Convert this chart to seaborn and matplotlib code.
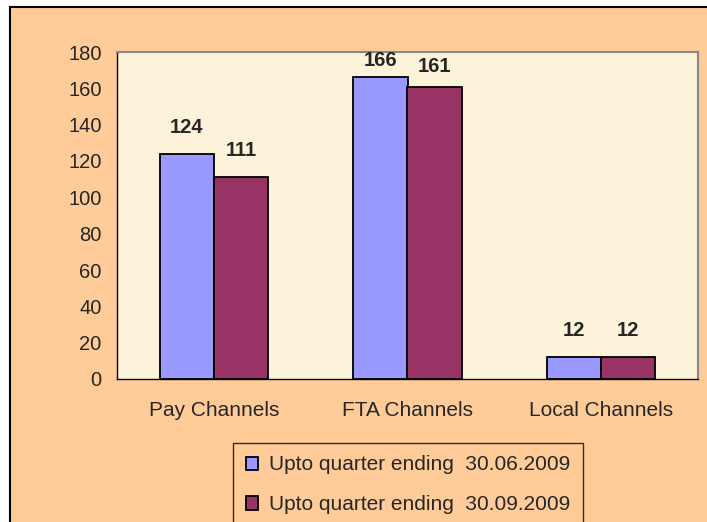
import matplotlib
matplotlib.use("Agg")
import matplotlib.pyplot as plt
from matplotlib.patches import Rectangle
import seaborn as sns
import pandas as pd

categories = ["Pay Channels", "FTA Channels", "Local Channels"]
series_names = ["Upto quarter ending  30.06.2009", "Upto quarter ending  30.09.2009"]
q2_values = [124, 166, 12]
q3_values = [111, 161, 12]
y_ticks = [0, 20, 40, 60, 80, 100, 120, 140, 160, 180]

df = pd.DataFrame({
    "category": categories * 2,
    "series": [series_names[0]] * 3 + [series_names[1]] * 3,
    "value": q2_values + q3_values,
})

sns.set_style("white")
plt.rcParams["font.family"] = ["Liberation Sans", "DejaVu Sans"]

fig = plt.figure(figsize=(7.07, 5.22), dpi=100, facecolor="white")
# outer chart frame
fig.patches.append(Rectangle((10 / 707, -0.05), 1.2, 1 - 7 / 522 + 0.05,
                             transform=fig.transFigure, facecolor="#FFCC99",
                             edgecolor="black", linewidth=1.5, zorder=-10))

ax = fig.add_axes([117 / 707, 1 - 379 / 522, (698 - 117) / 707, (379 - 52) / 522])
ax.set_facecolor("#FDF2DA")

palette = {series_names[0]: "#9999FF", series_names[1]: "#993366"}
sns.barplot(data=df, x="category", y="value", hue="series", order=categories,
            hue_order=series_names, palette=palette, width=0.56, saturation=1,
            edgecolor="black", linewidth=1.3, ax=ax, legend=True)

ax.set_xlim(-0.5, 2.5)
ax.set_ylim(0, 180)
ax.set_yticks(y_ticks)
ax.set_xlabel("")
ax.set_ylabel("")
ax.tick_params(axis="y", which="major", direction="out", length=5, width=1,
               color="black", labelsize=14.5, pad=6)
ax.set_xticks([0, 1, 2])
ax.set_xticks([-0.5, 0.5, 1.5, 2.5], minor=True)
ax.tick_params(axis="x", which="major", length=0, labelsize=15, pad=16)
ax.tick_params(axis="x", which="minor", direction="out", length=6, width=1, color="black")
for s in ["left", "bottom"]:
    ax.spines[s].set_color("black")
    ax.spines[s].set_linewidth(1)
for s in ["top", "right"]:
    ax.spines[s].set_color("#888888")
    ax.spines[s].set_linewidth(1.5)

# data labels
offsets_px = [17, 7, 17, 17, 11, 17]
patches = [p for c in ax.containers for p in c]
for p, off in zip(patches, offsets_px):
    h = p.get_height()
    ax.annotate(f"{int(round(h))}", (p.get_x() + p.get_width() / 2, h),
                xytext=(0, off * 0.72), textcoords="offset points",
                ha="center", va="bottom", fontsize=14.5, fontweight="bold")

handles, labels = ax.get_legend_handles_labels()
ax.get_legend().remove()
leg = fig.legend(handles, labels, loc="upper center",
                 bbox_to_anchor=(408 / 707, 1 - 443 / 522), frameon=True,
                 fontsize=15, handlelength=0.6, handleheight=0.6,
                 handletextpad=0.5, labelspacing=1.0, borderpad=0.6,
                 borderaxespad=0, fancybox=False)
leg.get_frame().set_facecolor("#FFCC99")
leg.get_frame().set_edgecolor("black")
leg.get_frame().set_linewidth(1)

fig.savefig("out.png", dpi=100, facecolor="white")
